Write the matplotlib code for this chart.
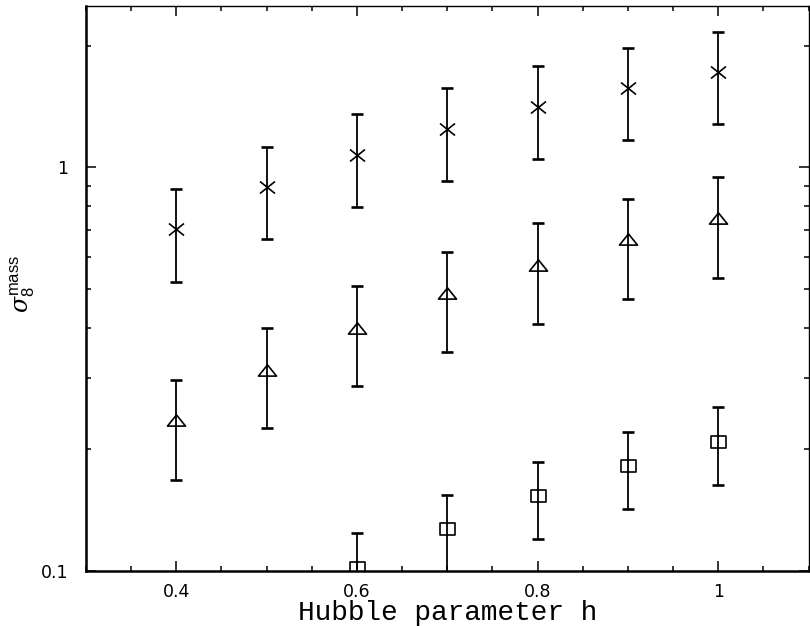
import numpy as np
import matplotlib
matplotlib.use("Agg")
import matplotlib.pyplot as plt
from matplotlib.path import Path
from matplotlib.ticker import LogLocator, FixedLocator, MultipleLocator, NullFormatter, FixedFormatter

plt.rcParams["font.family"] = ["DejaVu Sans"]
plt.rcParams["mathtext.fontset"] = "custom"
plt.rcParams["mathtext.rm"] = "Liberation Sans"
plt.rcParams["mathtext.it"] = "DejaVu Serif:italic"

# ---- data ----
h = [0.4, 0.5, 0.6, 0.7, 0.8, 0.9, 1.0]

cross_val = [0.702, 0.892, 1.073, 1.247, 1.411, 1.570, 1.721]
cross_hi  = [0.882, 1.121, 1.354, 1.568, 1.784, 1.974, 2.163]
cross_lo  = [0.521, 0.663, 0.797, 0.925, 1.051, 1.167, 1.279]

tri_val = [0.236, 0.315, 0.400, 0.487, 0.572, 0.663, 0.747]
tri_hi  = [0.298, 0.401, 0.507, 0.616, 0.726, 0.833, 0.945]
tri_lo  = [0.168, 0.226, 0.287, 0.348, 0.410, 0.473, 0.533]

h_sq   = [0.6, 0.7, 0.8, 0.9, 1.0]
sq_val = [0.1017, 0.1271, 0.1535, 0.1822, 0.2089]
sq_hi  = [0.1241, 0.1544, 0.1865, 0.2213, 0.2552]
sq_lo  = [0.079, 0.0995, 0.1201, 0.1425, 0.1634]

xticks = [0.4, 0.6, 0.8, 1.0]
xtick_labels = ["0.4", "0.6", "0.8", "1"]
yticks = [0.1, 1.0]
ytick_labels = ["0.1", "1"]

# ---- custom marker shapes ----
tri_marker = Path([(0, 0.62), (-1, -0.62), (1, -0.62), (0, 0.62)],
                  [Path.MOVETO, Path.LINETO, Path.LINETO, Path.CLOSEPOLY])
sq_marker = Path([(-1, -0.8), (1, -0.8), (1, 0.8), (-1, 0.8), (-1, -0.8)],
                 [Path.MOVETO, Path.LINETO, Path.LINETO, Path.LINETO, Path.CLOSEPOLY])
x_marker = Path([(-1, -0.8), (1, 0.8), (-1, 0.8), (1, -0.8)],
                [Path.MOVETO, Path.LINETO, Path.MOVETO, Path.LINETO])

fig = plt.figure(figsize=(8.1, 6.26), dpi=100)
ax = fig.add_axes([86 / 810, 55 / 626, (808.5 - 86) / 810, (620 - 55) / 626])

def draw(x, v, lo, hi, marker, ms):
    v = np.asarray(v); lo = np.asarray(lo); hi = np.asarray(hi)
    ax.errorbar(x, v, yerr=[v - lo, hi - v], fmt="none", ecolor="black",
                elinewidth=1.3, capsize=4.0, capthick=1.9)
    ax.plot(x, v, linestyle="none", marker=marker, markersize=ms,
            markerfacecolor="none", markeredgecolor="black", markeredgewidth=1.2)

draw(h, cross_val, cross_lo, cross_hi, x_marker, 10.8)
draw(h, tri_val, tri_lo, tri_hi, tri_marker, 13.0)
draw(h_sq, sq_val, sq_lo, sq_hi, sq_marker, 10.8)

ax.set_yscale("log")
ax.set_xlim(0.3, 1.1)
ax.set_ylim(0.1, 2.51)

ax.xaxis.set_major_locator(FixedLocator(xticks))
ax.xaxis.set_major_formatter(FixedFormatter(xtick_labels))
ax.xaxis.set_minor_locator(MultipleLocator(0.05))

ax.yaxis.set_major_locator(FixedLocator(yticks))
ax.yaxis.set_major_formatter(FixedFormatter(ytick_labels))
ax.yaxis.set_minor_locator(LogLocator(base=10, subs=np.arange(2, 10)))
ax.yaxis.set_minor_formatter(NullFormatter())

ax.tick_params(which="both", direction="in", top=True, right=True, colors="black")
ax.tick_params(which="major", length=7.5, width=1.1)
ax.tick_params(which="minor", length=3.8, width=1.1)
ax.tick_params(axis="x", which="major", pad=8.5, labelsize=12.5)
ax.tick_params(axis="y", which="major", pad=13, labelsize=12.5)
for lab in ax.get_yticklabels():
    lab.set_verticalalignment("center_baseline")

ax.spines["left"].set_linewidth(1.8)
ax.spines["bottom"].set_linewidth(1.8)
ax.spines["top"].set_linewidth(1.0)
ax.spines["right"].set_linewidth(1.0)

ax.set_xlabel("Hubble parameter h", family="Liberation Mono", fontsize=20,
              va="baseline", ha="center")
ax.xaxis.set_label_coords(0.5, -0.0875)
ax.set_ylabel(r"$\sigma_8^{\rm mass}$", fontsize=17, va="center", ha="center")
ax.yaxis.set_label_coords(-0.087, 0.508)

fig.savefig("out.png", dpi=100)
